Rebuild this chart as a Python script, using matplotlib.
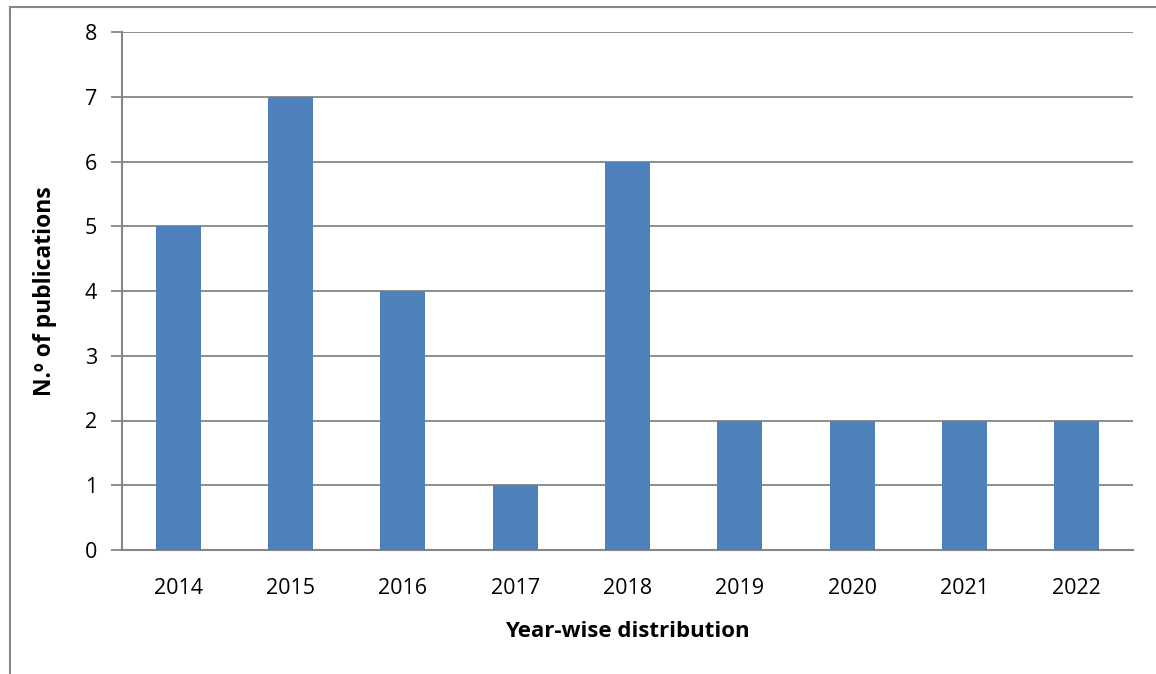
import matplotlib.pyplot as plt
from matplotlib.lines import Line2D

years = ['2014', '2015', '2016', '2017', '2018', '2019', '2020', '2021', '2022']
counts = [5, 7, 4, 1, 6, 2, 2, 2, 2]

plt.rcParams['font.family'] = ['Open Sans', 'DejaVu Sans']

fig = plt.figure(figsize=(11.56, 6.74), dpi=100)
ax = fig.add_axes([122/1156, 1-550/674, (1133-122)/1156, (550-32)/674])

grid_col = '#868686'
ax.bar(range(len(years)), counts, width=0.4, color='#4F81BD', zorder=3)
ax.set_xlim(-0.5, len(years)-0.5)
ax.set_ylim(0, 8)
ax.set_yticks(range(9))
ax.set_xticks(range(len(years)))
ax.set_xticklabels(years)
ax.yaxis.grid(True, color=grid_col, linewidth=1.3, zorder=0)
for s in ['top', 'right']:
    ax.spines[s].set_visible(False)
for s in ['left', 'bottom']:
    ax.spines[s].set_color(grid_col)
    ax.spines[s].set_linewidth(1.5)
ax.tick_params(axis='y', length=8, width=1.3, color=grid_col, labelsize=15.5, pad=10)
ax.tick_params(axis='x', length=0, labelsize=15.5, pad=20)

ax.set_xlabel('Year-wise distribution', fontsize=16, fontweight='bold', labelpad=16)
ax.set_ylabel('N.º of publications', fontsize=16.5, fontweight='bold', labelpad=20)

# outer chart border (left and top edges visible)
fig.add_artist(Line2D([10/1156, 10/1156], [0, 1-7/674], transform=fig.transFigure, color=grid_col, lw=1.5))
fig.add_artist(Line2D([10/1156, 1], [1-7/674, 1-7/674], transform=fig.transFigure, color=grid_col, lw=1.5))

fig.savefig('out.png', dpi=100)
